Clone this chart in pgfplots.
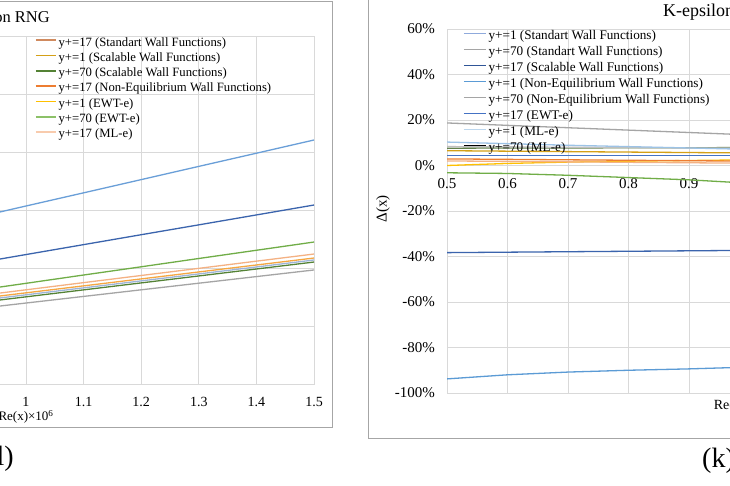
\documentclass[border=0pt]{standalone}
\usepackage{fontspec}
\setmainfont{Liberation Serif}
\usepackage{pgfplots}
\pgfplotsset{compat=1.18}
\definecolor{gridc}{HTML}{D9D9D9}
\definecolor{framec}{HTML}{A6A6A6}
\definecolor{lblue}{HTML}{6A9FD8}
\definecolor{dblue}{HTML}{3B64AD}
\definecolor{xgreen}{HTML}{70AD47}
\definecolor{salmon}{HTML}{F4B183}
\definecolor{ogold}{HTML}{F5A742}
\definecolor{bgray}{HTML}{9DB4D8}
\definecolor{dgreen}{HTML}{548235}
\definecolor{xgray}{HTML}{A5A5A5}
\definecolor{lgray}{HTML}{BFBFBF}
\definecolor{llblue}{HTML}{9DC3E6}
\definecolor{gold}{HTML}{D4A017}
\definecolor{xblue}{HTML}{4472C4}
\definecolor{xorange}{HTML}{ED7D31}
\definecolor{xyellow}{HTML}{FFC000}
\definecolor{brorange}{HTML}{D08A5E}
\definecolor{lgreen}{HTML}{8CC168}
\definecolor{lpink}{HTML}{F8CBAD}
\definecolor{sblue}{HTML}{8FAADC}
\definecolor{navy}{HTML}{2F5597}
\definecolor{mblue}{HTML}{5B9BD5}
\definecolor{pblue}{HTML}{BDD7EE}
\pgfplotsset{
  exstyle/.style={
    scale only axis,
    anchor=south west,
    grid=major,
    grid style={gridc, line width=0.8pt},
    axis line style={gridc, line width=0.8pt},
    major tick length=0pt,
    /pgf/number format/assume math mode=true,
    every axis plot/.append style={line width=1.3pt, no marks},
    legend cell align=left,
  },
  leftimg/.style={legend image code/.code={\draw[##1, line width=1.6pt] (0pt,3.4pt) -- (20pt,3.4pt);}},
  rightimg/.style={legend image code/.code={\draw[##1, line width=1.6pt] (0pt,3.5pt) -- (22pt,3.5pt);}},
}
\begin{document}
\begin{tikzpicture}
\useasboundingbox (0pt,0pt) rectangle (730pt,-486pt);
\clip (0pt,0pt) rectangle (730pt,-486pt);
\fill[white] (0pt,0pt) rectangle (730pt,-486pt);
% chart frames
\draw[framec, line width=0.9pt] (-10pt,-1pt) -- (332pt,-1pt) -- (332pt,-427pt) -- (-10pt,-427pt);
\draw[framec, line width=0.9pt] (740pt,-438.5pt) -- (368pt,-438.5pt) -- (368pt,10pt);

% ---------------- left chart ----------------
\begin{axis}[exstyle, leftimg,
  at={(-262pt,-384pt)}, width=576pt, height=348pt,
  xmin=0.5, xmax=1.5, ymin=0, ymax=6,
  xtick={0.5,0.6,0.7,0.8,0.9,1,1.1,1.2,1.3,1.4,1.5},
  xticklabels={,,,,,1,1.1,1.2,1.3,1.4,1.5},
  ytick={0,1,2,3,4,5,6}, yticklabels={},
  xticklabel style={font=\fontsize{14}{15}\selectfont, anchor=center, inner sep=0pt, yshift=-18pt},
  xlabel={Re(x)×10\textsuperscript{6}},
  xlabel style={at={(axis description cs:0.5,0)}, anchor=center, inner sep=0pt, yshift=-33pt, font=\fontsize{13}{14}\selectfont},
  legend style={at={(0.5156,1)}, anchor=north west, draw=none, fill=none,
    font=\fontsize{12.7}{13}\selectfont, inner sep=0pt, outer sep=0pt, column sep=2pt, row sep=0pt,
    nodes={inner sep=0pt, text height=10pt, text depth=5.33pt}},
]
\addplot[xgray, forget plot] coordinates {(0.9,1.282)(1.0,1.396)(1.1,1.510)(1.2,1.624)(1.3,1.738)(1.4,1.852)(1.5,1.966)};
\addplot[dgreen, forget plot] coordinates {(0.9,1.383)(1.0,1.503)(1.1,1.623)(1.2,1.743)(1.3,1.863)(1.4,1.983)(1.5,2.103)};
\addplot[bgray, forget plot] coordinates {(0.9,1.418)(1.0,1.538)(1.1,1.658)(1.2,1.778)(1.3,1.898)(1.4,2.018)(1.5,2.138)};
\addplot[ogold, forget plot] coordinates {(0.9,1.452)(1.0,1.572)(1.1,1.692)(1.2,1.812)(1.3,1.932)(1.4,2.052)(1.5,2.172)};
\addplot[salmon, forget plot] coordinates {(0.9,1.501)(1.0,1.624)(1.1,1.748)(1.2,1.871)(1.3,1.994)(1.4,2.118)(1.5,2.241)};
\addplot[xgreen, forget plot] coordinates {(0.9,1.594)(1.0,1.736)(1.1,1.879)(1.2,2.021)(1.3,2.164)(1.4,2.306)(1.5,2.448)};
\addplot[dblue, forget plot] coordinates {(0.9,2.061)(1.0,2.232)(1.1,2.403)(1.2,2.574)(1.3,2.744)(1.4,2.915)(1.5,3.086)};
\addplot[lblue, forget plot] coordinates {(0.9,2.841)(1.0,3.069)(1.1,3.296)(1.2,3.524)(1.3,3.752)(1.4,3.979)(1.5,4.207)};
\addlegendimage{brorange}\addlegendentry{y+=17 (Standart Wall Functions)}
\addlegendimage{gold}\addlegendentry{y+=1 (Scalable Wall Functions)}
\addlegendimage{dgreen}\addlegendentry{y+=70 (Scalable Wall Functions)}
\addlegendimage{xorange}\addlegendentry{y+=17 (Non-Equilibrium Wall Functions)}
\addlegendimage{xyellow}\addlegendentry{y+=1 (EWT-e)}
\addlegendimage{lgreen}\addlegendentry{y+=70 (EWT-e)}
\addlegendimage{lpink}\addlegendentry{y+=17 (ML-e)}
\end{axis}
\node[anchor=base east, font=\fontsize{16.5}{18}\selectfont, inner sep=0pt] at (50pt,-23pt) {K-epsilon RNG};
\node[anchor=base east, font=\fontsize{28}{30}\selectfont, inner sep=0pt] at (14pt,-465pt) {(l)};

% ---------------- right chart ----------------
\begin{axis}[exstyle, rightimg,
  at={(447pt,-393pt)}, width=605pt, height=364pt,
  xmin=0.5, xmax=1.5, ymin=-100, ymax=60,
  xtick={0.5,0.6,0.7,0.8,0.9,1,1.1,1.2,1.3,1.4,1.5},
  xticklabels={0.5,0.6,0.7,0.8,0.9,,,,,,},
  ytick={-100,-80,-60,-40,-20,0,20,40,60},
  yticklabels={-100\%,-80\%,-60\%,-40\%,-20\%,0\%,20\%,40\%,60\%},
  xticklabel style={font=\fontsize{15}{16}\selectfont, anchor=center, inner sep=0pt, yshift=209pt},
  yticklabel style={font=\fontsize{15}{16}\selectfont, anchor=east, inner sep=0pt, xshift=-12pt},
  xlabel={Re(x)×10\textsuperscript{6}},
  xlabel style={at={(axis description cs:0.49,0)}, anchor=center, inner sep=0pt, yshift=-12pt, font=\fontsize{14}{15}\selectfont},
  legend style={at={(0.0264,1)}, anchor=north west, draw=none, fill=none,
    font=\fontsize{13.2}{14}\selectfont, inner sep=0pt, outer sep=0pt, column sep=2pt, row sep=0pt,
    nodes={inner sep=0pt, text height=10.5pt, text depth=5.5pt}},
]
\addplot[mblue, forget plot] coordinates {(0.5,-93.8)(0.6,-92.0)(0.7,-90.8)(0.8,-90.0)(0.9,-89.4)(1.0,-88.6)};
\addplot[dblue, forget plot] coordinates {(0.5,-38.3)(0.6,-38.1)(0.7,-37.9)(0.8,-37.7)(0.9,-37.5)(1.0,-37.3)};
\addplot[xgreen, forget plot] coordinates {(0.5,-3.2)(0.6,-3.5)(0.7,-4.3)(0.8,-5.3)(0.9,-6.3)(1.0,-7.8)};
\addplot[xyellow, forget plot] coordinates {(0.5,0.0)(0.6,0.9)(0.7,1.5)(0.8,1.9)(0.9,2.2)(1.0,2.5)};
\addplot[salmon, forget plot] coordinates {(0.5,2.0)(0.6,1.8)(0.7,1.6)(0.8,1.4)(0.9,1.2)(1.0,1.0)};
\addplot[xorange, forget plot] coordinates {(0.5,2.9)(0.6,2.7)(0.7,2.5)(0.8,2.3)(0.9,2.1)(1.0,1.9)};
\addplot[xblue, forget plot] coordinates {(0.5,4.3)(0.6,4.3)(0.7,4.3)(0.8,4.3)(0.9,4.3)(1.0,4.3)};
\addplot[gold, forget plot] coordinates {(0.5,6.5)(0.6,6.3)(0.7,6.1)(0.8,5.9)(0.9,5.7)(1.0,5.5)};
\addplot[dgreen!70!gray, forget plot] coordinates {(0.5,7.6)(0.6,7.7)(0.7,7.7)(0.8,7.8)(0.9,7.8)(1.0,7.9)};
\addplot[lgray, forget plot] coordinates {(0.5,8.3)(0.6,8.2)(0.7,8.0)(0.8,7.9)(0.9,7.7)(1.0,7.6)};
\addplot[llblue, forget plot] coordinates {(0.5,10.3)(0.6,9.6)(0.7,8.9)(0.8,8.3)(0.9,7.7)(1.0,7.1)};
\addplot[xgray, forget plot] coordinates {(0.5,18.7)(0.6,17.65)(0.7,16.6)(0.8,15.55)(0.9,14.5)(1.0,13.45)};
\addlegendimage{sblue}\addlegendentry{y+=1 (Standart Wall Functions)}
\addlegendimage{xgray}\addlegendentry{y+=70 (Standart Wall Functions)}
\addlegendimage{navy}\addlegendentry{y+=17 (Scalable Wall Functions)}
\addlegendimage{mblue}\addlegendentry{y+=1 (Non-Equilibrium Wall Functions)}
\addlegendimage{xgray}\addlegendentry{y+=70 (Non-Equilibrium Wall Functions)}
\addlegendimage{xblue}\addlegendentry{y+=17 (EWT-e)}
\addlegendimage{pblue}\addlegendentry{y+=1 (ML-e)}
\addlegendimage{draw=none}\addlegendentry{y+=70 (ML-e)}
\end{axis}
\node[rotate=90, font=\fontsize{15}{16}\selectfont, inner sep=0pt] at (383pt,-209pt) {Δ(x)};
\node[anchor=base west, font=\fontsize{18}{20}\selectfont, inner sep=0pt] at (663pt,-17pt) {K-epsilon Realizable};
\node[anchor=base west, font=\fontsize{28}{30}\selectfont, inner sep=0pt] at (702pt,-467pt) {(k)};
\end{tikzpicture}
\end{document}
